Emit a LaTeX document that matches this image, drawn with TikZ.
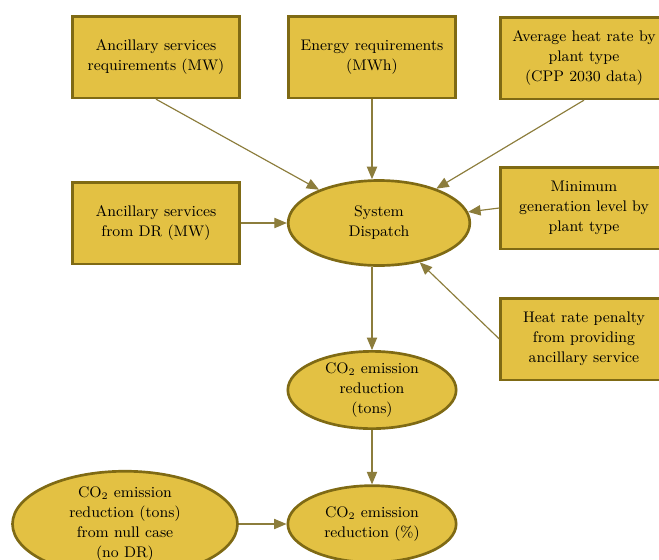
\documentclass[tikz,border=0pt]{standalone}
\usepackage{xcolor}
\usepackage{tikz}
\usetikzlibrary{shapes.geometric, arrows}

\definecolor{boxfill}{HTML}{E3C143}
\definecolor{boxline}{HTML}{7F6A14}
\definecolor{arrowcol}{HTML}{8C7D3C}

\begin{document}
\begin{tikzpicture}[x=0.6pt, y=-0.6pt, font=\fontsize{9.2}{12}\selectfont]
	\tikzstyle{box} = [rectangle, minimum width=100pt, minimum height=49pt, align=center, draw=boxline, fill=boxfill, line width=1.6pt]
	
	\tikzstyle{oval} = [ellipse, inner sep=0pt, align=center, draw=boxline, fill=boxfill, line width=1.6pt]
	
	\tikzstyle{arrow} = [->,>= triangle 45, draw=arrowcol, line width=0.7pt]
	
	\useasboundingbox (0,0) rectangle (659,560);
	
	% Top row of inputs
	\node (req) [box] at (156,57) {Ancillary services \\ requirements (MW)};
	\node (energy) [box] at (372,57) {Energy requirements \\ (MWh)};
	\node (heat) [box] at (584,58) {Average heat rate by \\ plant type \\ (CPP 2030 data)};
	
	% Middle row
	\node (dr) [box] at (156,223) {Ancillary services \\ from DR (MW)};
	\node (disp) [oval, minimum width=109pt, minimum height=51pt] at (379,223) {System \\ Dispatch};
	\node (mingen) [box] at (584,208) {Minimum \\ generation level by \\ plant type};
	\node (penalty) [box] at (584,339) {Heat rate penalty \\ from providing \\ ancillary service};
	
	% Outputs
	\node (tons) [oval, minimum width=101pt, minimum height=45pt] at (372,390) {CO$_2$ emission \\ reduction \\ (tons)};
	\node (pct) [oval, minimum width=101pt, minimum height=46pt] at (372,524) {CO$_2$ emission \\ reduction (\%)};
	\node (null) [oval, minimum width=135pt, minimum height=50pt] at (125,524) {CO$_2$ emission \\ reduction (tons) \\ from null case \\ (no DR)};
	
	% Arrows
	\draw [arrow] (req.south) -- (disp);
	\draw [arrow] (energy.south) -- (energy.south |- disp.north);
	\draw [arrow] (heat.south) -- (disp);
	\draw [arrow] (dr.east) -- (disp.west);
	\draw [arrow] (mingen.west) -- (disp);
	\draw [arrow] (penalty.west) -- (disp);
	
	\draw [arrow] (tons.north |- disp.south) -- (tons.north);
	\draw [arrow] (tons.south) -- (pct.north);
	\draw [arrow] (null.east) -- (pct.west);
\end{tikzpicture}
\end{document}
